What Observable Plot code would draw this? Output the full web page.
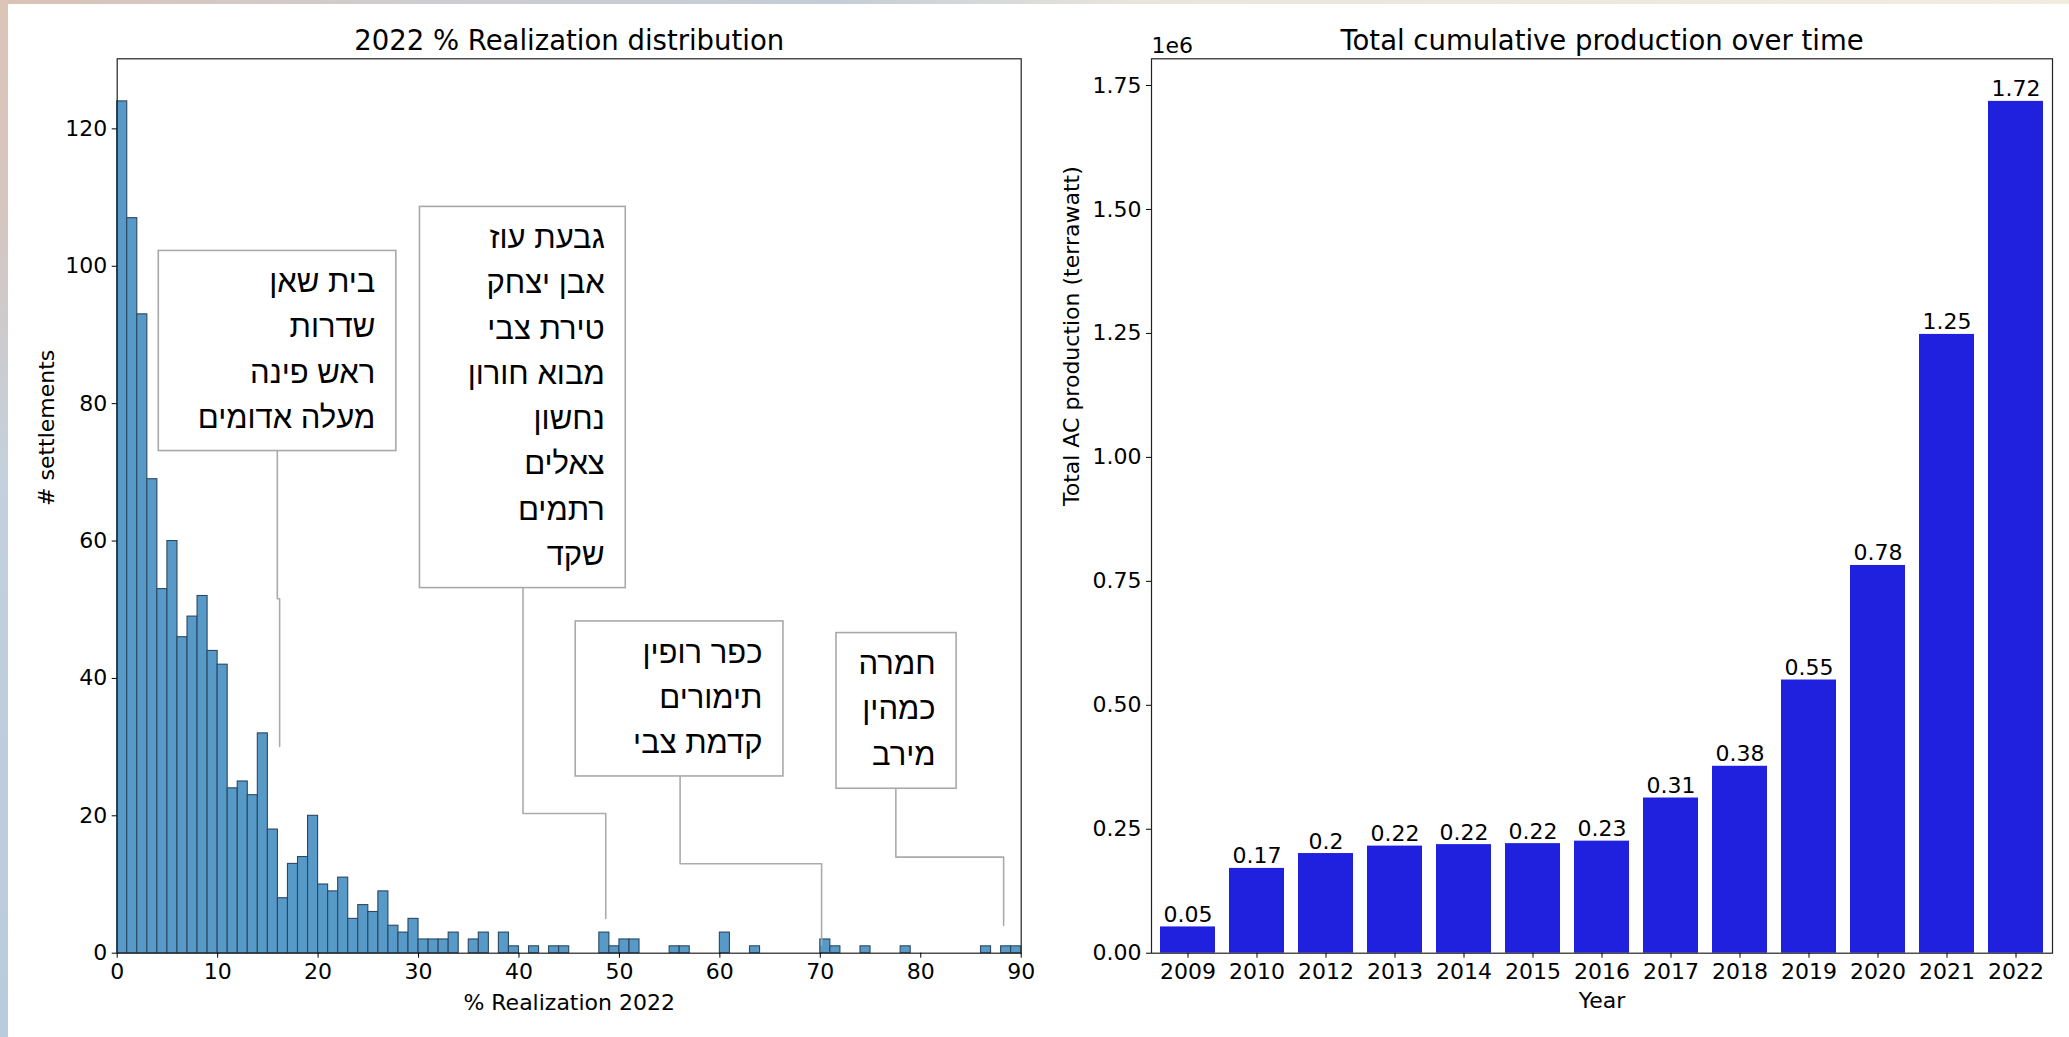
<!DOCTYPE html>
<html><head><meta charset="utf-8">
<script src="https://cdn.jsdelivr.net/npm/d3@7"></script>
<script src="https://cdn.jsdelivr.net/npm/@observablehq/plot@0.6"></script>
<style>
html,body{margin:0;padding:0;width:2069px;height:1037px;overflow:hidden;}
body{background:#fff;position:relative;font-family:"DejaVu Sans",sans-serif;}
#bgTop{position:absolute;left:0;top:0;width:2069px;height:4px;background:linear-gradient(to right,#d9c3b6 0%,#cfcdd0 20%,#c3ccd6 40%,#e9e5dc 55%,#f1ecde 100%);}
#bgLeft{position:absolute;left:0;top:0;width:8px;height:1037px;background:linear-gradient(to bottom,#dcc4b8 0%,#d6c6c0 20%,#c4d0dc 45%,#b9cbdc 100%);}
#left{position:absolute;left:0;top:0;}
#right{position:absolute;left:1034px;top:0;}
svg{background:transparent !important;max-width:none !important;}
</style></head><body>
<div id="bgTop"></div><div id="bgLeft"></div>
<div id="left"></div><div id="right"></div>
<script>
// ---------- Left: histogram data ----------
const histTitle = "2022 % Realization distribution";
const histXLabel = "% Realization 2022";
const histYLabel = "# settlements";
const binWidth = 1;
const binCounts = [
  124,107,93,69,53,60,46,49,52,44,
  42,24,25,23,32,18,8,13,14,20,
  10,9,11,5,7,6,9,4,3,5,
  2,2,2,3,0,2,3,0,3,1,
  0,1,0,1,1,0,0,0,3,1,
  2,2,0,0,0,1,1,0,0,0,
  3,0,0,1,0,0,0,0,0,0,
  2,1,0,0,1,0,0,0,1,0,
  0,0,0,0,0,0,1,0,1,1
];
const histXTicks = [0,10,20,30,40,50,60,70,80,90];
const histYTicks = [0,20,40,60,80,100,120];
const annotationTexts = [
  ["בית שאן","שדרות","ראש פינה","מעלה אדומים"],
  ["גבעת עוז","אבן יצחק","טירת צבי","מבוא חורון","נחשון","צאלים","רתמים","שקד"],
  ["כפר רופין","תימורים","קדמת צבי"],
  ["חמרה","כמהין","מירב"]
];

// ---------- Right: production data ----------
const prodTitle = "Total cumulative production over time";
const prodXLabel = "Year";
const prodYLabel = "Total AC production (terrawatt)";
const years = ["2009","2010","2012","2013","2014","2015","2016","2017","2018","2019","2020","2021","2022"];
const production = [53000,171000,201000,216000,219000,221000,226000,313000,377000,551000,782000,1248000,1718000];
const prodTicks = [0,250000,500000,750000,1000000,1250000,1500000,1750000];

// ---------- annotation layout (data units of the histogram) ----------
const annotationBoxes = [
  {x1:4.14, x2:27.79, y1:102.23, y2:73.10},
  {x1:30.14, x2:50.63, y1:108.64, y2:53.15},
  {x1:45.65, x2:66.33, y1:48.30, y2:25.73},
  {x1:71.61, x2:83.57, y1:46.60, y2:23.94}
];
const connectorPaths = [
  [[15.94,73.10],[15.94,51.6],[16.17,51.6],[16.17,30.1]],
  [[40.40,53.15],[40.40,20.34],[48.64,20.34],[48.64,5.05]],
  [[56.04,25.73],[56.04,13.02],[70.13,13.02],[70.13,1.2]],
  [[77.52,23.94],[77.52,13.98],[88.25,13.98],[88.25,4.03]]
];

// ---------- build tables ----------
const histData = binCounts.map((c,i)=>({x1:i*binWidth, x2:(i+1)*binWidth, count:c})).filter(d=>d.count>0);
const connRows = connectorPaths.flatMap((p,k)=>p.map(([x,y])=>({ann:k,x,y})));
const annRows = annotationBoxes.map((b,k)=>({x:b.x2, y:b.y1, text:annotationTexts[k].join("\n")}));
const prodData = years.map((y,i)=>({year:y, value:production[i]}));
const fmtLabel = v => String(Number((v/1e6).toFixed(2)));

const H = 1037, W1 = 1034, W2 = 1035;
const baseStyle = {fontFamily:'"DejaVu Sans", sans-serif', fontSize:"22px", color:"#000", background:"transparent", overflow:"visible"};
const annFont = 31;

const histPlot = Plot.plot({
  width: W1, height: H,
  marginLeft: 116.7, marginRight: W1 - 1020.7, marginTop: 58.3, marginBottom: H - 952.7,
  style: baseStyle,
  x: {type:"linear", domain:[0, 90]},
  y: {domain:[0, d3.max(binCounts)*1.05]},
  marks: [
    Plot.rectY(histData, {x1:"x1", x2:"x2", y:"count", fill:"#5799c7", stroke:"#2c4760", strokeWidth:1.1, inset:0}),
    Plot.line(connRows, {x:"x", y:"y", z:"ann", stroke:"#ababab", strokeWidth:1.6}),
    Plot.rect(annotationBoxes, {x1:"x1", x2:"x2", y1:"y1", y2:"y2", fill:"white", stroke:"#a9a9a9", strokeWidth:1.6}),
    Plot.text(annRows, {x:"x", y:"y", text:"text", textAnchor:"end", lineAnchor:"top", lineHeight:45.25/annFont, fontSize:annFont, fontFamily:'"Liberation Sans", "DejaVu Sans", sans-serif', dx:-21, dy:9, fill:"#000"}),
    Plot.frame({stroke:"#222", strokeWidth:1.2}),
    Plot.axisX({ticks:histXTicks, tickSize:5, tickPadding:5, label:null, tickFormat:d=>String(d)}),
    Plot.axisY({ticks:histYTicks, tickSize:5, tickPadding:5, label:null, tickFormat:d=>String(d)}),
    Plot.text([histTitle], {text:d=>d, frameAnchor:"top", dy:-18, fontSize:27.5, lineAnchor:"middle"}),
    Plot.text([histXLabel], {text:d=>d, frameAnchor:"bottom", dy:50, lineAnchor:"middle"}),
    Plot.text([histYLabel], {text:d=>d, frameAnchor:"left", dx:-70.7, rotate:-90, lineAnchor:"middle"})
  ]
});
document.getElementById("left").appendChild(histPlot);

const prodPlot = Plot.plot({
  width: W2, height: H,
  marginLeft: 117, marginRight: 17, marginTop: 58.3, marginBottom: H - 952.7,
  style: baseStyle,
  x: {type:"band", domain:years, paddingInner:0.2, paddingOuter:0.1},
  y: {domain:[0, d3.max(production)*1.05]},
  marks: [
    Plot.barY(prodData, {x:"year", y:"value", fill:"#2020df"}),
    Plot.text(prodData, {x:"year", y:"value", text:d=>fmtLabel(d.value), lineAnchor:"bottom", dy:-5}),
    Plot.frame({stroke:"#222", strokeWidth:1.2}),
    Plot.axisX({tickSize:5, tickPadding:5, label:null}),
    Plot.axisY({ticks:prodTicks, tickFormat:d=>(d/1e6).toFixed(2), tickSize:5, tickPadding:5, label:null}),
    Plot.text([prodTitle], {text:d=>d, frameAnchor:"top", dy:-18, fontSize:27.5, lineAnchor:"middle"}),
    Plot.text(["1e6"], {text:d=>d, frameAnchor:"top-left", textAnchor:"start", dy:-13, lineAnchor:"middle"}),
    Plot.text([prodXLabel], {text:d=>d, frameAnchor:"bottom", dy:48, lineAnchor:"middle"}),
    Plot.text([prodYLabel], {text:d=>d, frameAnchor:"left", dx:-79.5, rotate:-90, lineAnchor:"middle"})
  ]
});
document.getElementById("right").appendChild(prodPlot);
</script>
</body></html>
